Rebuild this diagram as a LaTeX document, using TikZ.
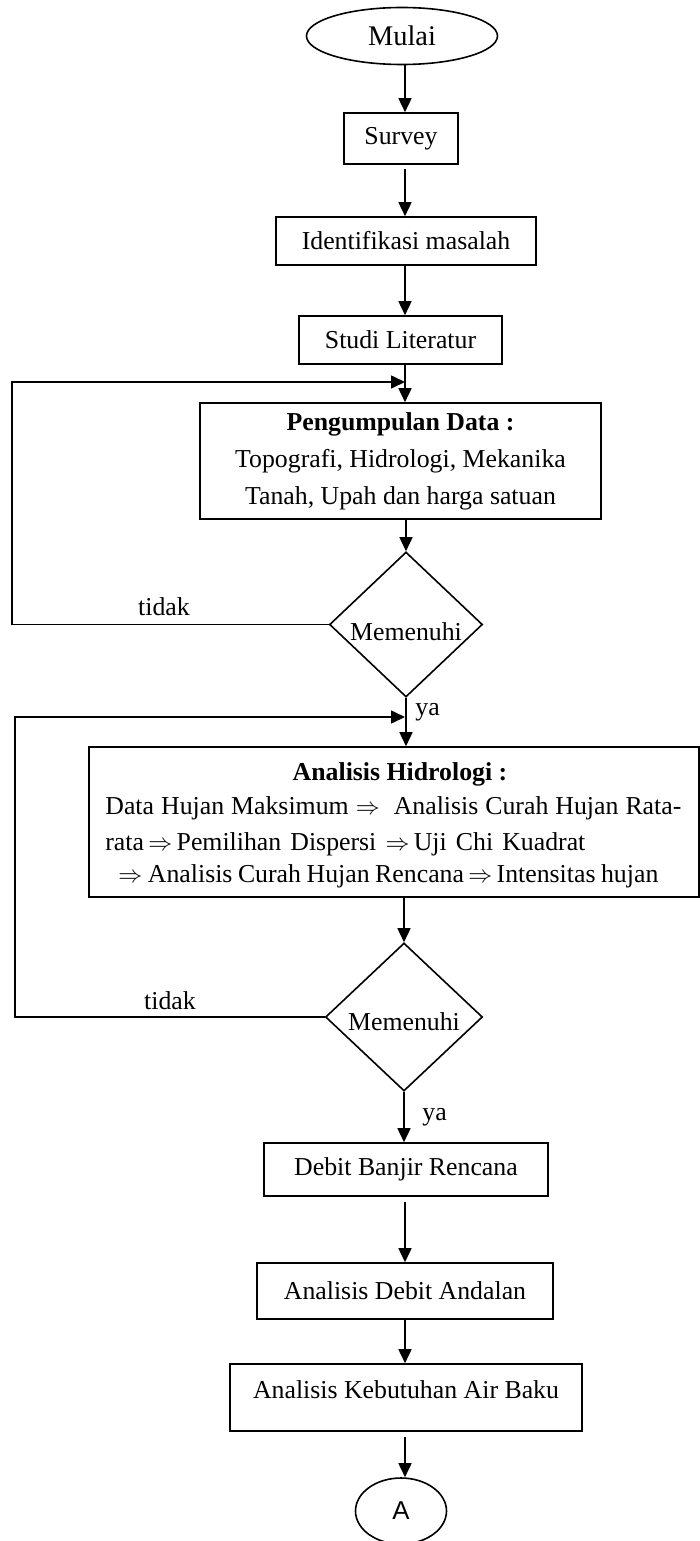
\documentclass[tikz,border=0pt]{standalone}
\usepackage{fontspec}
\setmainfont{Liberation Serif}
\newfontfamily\arialfont{Liberation Sans}
\usetikzlibrary{shapes.geometric,arrows.meta}
\begin{document}
\begin{tikzpicture}[x=0.5pt,y=-0.5pt,
  every node/.style={font=\fontsize{12.9}{18.5}\selectfont},
  box/.style={draw, line width=0.8pt, rectangle, inner sep=0pt, align=center},
  term/.style={draw, line width=0.8pt, ellipse, inner sep=0pt},
  dec/.style={draw, line width=0.8pt, diamond, inner sep=0pt},
  arr/.style={line width=0.8pt, -{Triangle[length=7pt,width=6.5pt]}},
  lbl/.style={inner sep=0pt}]
\useasboundingbox (0,0) rectangle (700,1541);
\coordinate (c) at (405,0);

\node[term, minimum width=95.5pt, minimum height=28.5pt, font=\fontsize{14.2}{16}\selectfont] (mulai) at (402,36) {Mulai};
\node[box, minimum width=57pt, minimum height=25.5pt] (survey) at (401,138.5) {Survey};
\node[box, minimum width=130pt, minimum height=24pt] (ident) at (406,241) {Identifikasi masalah};
\node[box, minimum width=101.5pt, minimum height=24pt] (studi) at (400.5,340) {Studi Literatur};
\node[box, minimum width=200.5pt, minimum height=58pt] (peng) at (400.5,461) {\textbf{Pengumpulan Data :}\\Topografi, Hidrologi, Mekanika\\Tanah, Upah dan harga satuan};
\node[dec, minimum width=76.5pt, minimum height=72.5pt, label={[yshift=-3.5pt]center:Memenuhi}] (d1) at (406,624.5) {};

\node[box, minimum width=305pt, minimum height=75pt] (anal) at (394,822) {};
\node[lbl, anchor=base, font=\fontsize{12.9}{18.5}\selectfont\bfseries] (analh) at (400,780) {Analisis Hidrologi :};
\node[lbl, anchor=base west] (h1) at (105,814) {\makebox[288pt][s]{Data Hujan Maksimum $\Rightarrow$\ \ Analisis Curah Hujan Rata-}};
\node[lbl, anchor=base west] (h2) at (105,850) {\makebox[240pt][s]{rata\,$\Rightarrow$\,Pemilihan Dispersi $\Rightarrow$\,Uji Chi Kuadrat}};
\node[lbl, anchor=base west] (h3) at (118,882) {\makebox[270pt][s]{$\Rightarrow$ Analisis Curah Hujan Rencana\,$\Rightarrow$\,Intensitas hujan}};

\node[dec, minimum width=78.5pt, minimum height=74pt, label={[yshift=-2.5pt]center:Memenuhi}] (d2) at (404,1017) {};
\node[box, minimum width=142pt, minimum height=26.5pt] (debit) at (406,1169.5) {Debit Banjir Rencana};
\node[box, minimum width=148pt, minimum height=28pt] (andal) at (405,1291) {Analisis Debit Andalan};
\node[box, minimum width=176pt, minimum height=33.5pt, label={[yshift=4pt]center:Analisis Kebutuhan Air Baku}] (kebut) at (406,1397.5) {};
\node[term, minimum width=45.5pt, minimum height=33pt, font=\arialfont\fontsize{12.9}{14}\selectfont] (A) at (401,1511) {A};

\draw[arr] (mulai.south -| c) -- (survey.north -| c);
\draw[arr, shorten <=2pt] (survey.south -| c) -- (ident.north -| c);
\draw[arr] (ident.south -| c) -- (studi.north -| c);
\draw[arr] (studi.south -| c) -- (peng.north -| c);
\draw[arr] (peng.south -| d1.north) -- (d1.north);

\coordinate (l1) at (12,382);
\draw[arr] (d1.west) -| (l1) -- (l1 -| c);
\node (t1) at (164,607) {tidak};

\draw[arr] (d1.south) -- (anal.north -| d1.south);
\node[lbl, anchor=base west] (y1) at (415,715) {ya};

\coordinate (l2) at (15,717);
\draw[arr] (d2.west) -| (l2) -- (l2 -| c);
\node (t2) at (170,1001) {tidak};

\draw[arr] (anal.south -| d2.north) -- (d2.north);
\draw[arr] (d2.south) -- (debit.north -| d2.south);
\node[lbl, anchor=base west] (y2) at (422,1120) {ya};
\draw[arr, shorten <=2.5pt] (debit.south -| c) -- (andal.north -| c);
\draw[arr] (andal.south -| c) -- (kebut.north -| c);
\draw[arr, shorten <=2.5pt] (kebut.south -| c) -- (A.north -| c);
\end{tikzpicture}
\end{document}
